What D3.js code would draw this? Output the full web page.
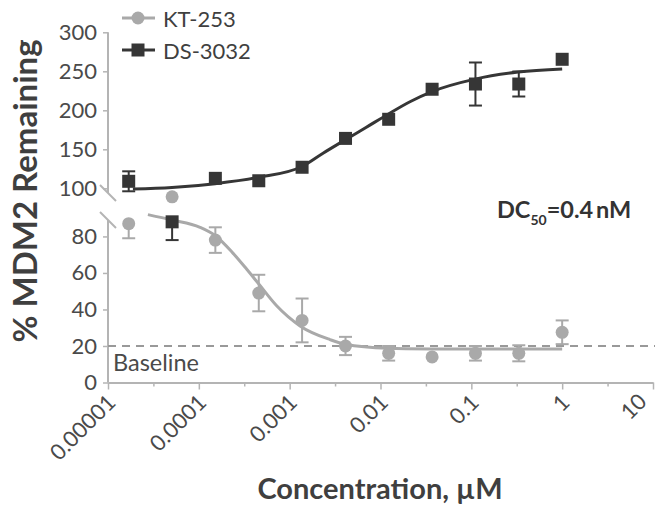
<!DOCTYPE html>
<html>
<head>
<meta charset="utf-8">
<script src="https://cdn.jsdelivr.net/npm/d3@7"></script>
<style>
  html, body { margin: 0; padding: 0; background: #fff; }
  svg { display: block; font-family: Lato, "Open Sans", sans-serif; }
</style>
</head>
<body>
<svg id="chart" width="655" height="508"></svg>
<script>
// ---------- data ----------
const conc = [0.0000169, 0.0000508, 0.000152, 0.000457, 0.00137, 0.00412, 0.0123, 0.037, 0.111, 0.333, 1];

const ktValues = [87, 93.3, 78, 49, 34, 20, 16, 14, 16, 16, 27.5];
const ktErr    = [8, 0, 7, 10, 12, 5, 4, 0, 4, 4.4, 6.5];

const dsValues = [109, 88, 112.8, 109.7, 127, 164, 188.5, 227, 233.7, 233.7, 265.4];
const dsErr    = [12.8, 10, 0, 0, 0, 0, 0, 0, 27.6, 16, 0];

// fitted curves
const ktCurveConc = [0.0000275, 0.0000507, 0.000103, 0.000151, 0.000236, 0.000337, 0.000448, 0.000719, 0.00130, 0.00278, 0.00407, 0.0121, 0.0369, 0.110, 0.327, 1];
const ktCurveVals = [90, 89, 85, 80.5, 71, 62, 54.5, 42, 31, 23.5, 21, 18.8, 18.4, 18.3, 18.3, 18.3];

const dsCurveConc = [0.0000188, 0.0000507, 0.000151, 0.000448, 0.00137, 0.00233, 0.00407, 0.00692, 0.0121, 0.0211, 0.0369, 0.110, 0.327, 1];
const dsCurveVals = [99, 101, 106, 114, 128, 145, 162, 178, 195, 211, 224, 240, 249, 253];

const xTickValues = [0.00001, 0.0001, 0.001, 0.01, 0.1, 1, 10];
const xTickLabels = ["0.00001", "0.0001", "0.001", "0.01", "0.1", "1", "10"];
const xMinorTicks = [0.0000316, 0.000316, 0.00316, 0.0316, 0.316, 3.16];
const yLowerTicks = [0, 20, 40, 60, 80];
const yUpperTicks = [100, 150, 200, 250, 300];
const yBreak = [89, 94];        // lower segment ends, upper segment starts
const baselineValue = 20;

const seriesNames = ["KT-253", "DS-3032"];
const ktColor = "#a9a9a9";
const dsColor = "#363636";
const axisColor = "#b4b4b4";
const textColor = "#4a4a4a";

// ---------- scales ----------
const svg = d3.select("#chart");
const x = d3.scaleLog().domain([0.00001, 10]).range([108, 653]);
const y = d3.scaleLinear()
  .domain([0, yBreak[0], yBreak[1], 300])
  .range([382.5, 220, 193, 32.3]);

// clip regions for the two axis segments (error bars)
const defs = svg.append("defs");
defs.append("clipPath").attr("id", "clipLower").append("rect")
  .attr("x", 0).attr("width", 655).attr("y", y(yBreak[0])).attr("height", 508 - y(yBreak[0]));
defs.append("clipPath").attr("id", "clipUpper").append("rect")
  .attr("x", 0).attr("width", 655).attr("y", 0).attr("height", y(yBreak[1]));
function clipFor(v) {
  if (v <= yBreak[0]) return "url(#clipLower)";
  if (v >= yBreak[1]) return "url(#clipUpper)";
  return null;
}

// ---------- axes ----------
const x0 = x.range()[0];

const gyL = svg.append("g").attr("transform", `translate(${x0},0)`)
  .call(d3.axisLeft(y).tickValues(yLowerTicks).tickSize(5).tickPadding(6).tickSizeOuter(0));
const gyU = svg.append("g").attr("transform", `translate(${x0},0)`)
  .call(d3.axisLeft(y).tickValues(yUpperTicks).tickSize(5).tickPadding(6).tickSizeOuter(0));
[gyL, gyU].forEach(g => {
  g.select(".domain").remove();
  g.selectAll(".tick line").attr("stroke", axisColor).attr("stroke-width", 1.5);
  g.selectAll(".tick text").attr("fill", textColor).style("font-size", "22px")
    .style("font-family", "Lato, sans-serif");
});
svg.append("line").attr("x1", x0).attr("x2", x0).attr("y1", y(0)).attr("y2", y(yBreak[0]))
  .attr("stroke", axisColor).attr("stroke-width", 2);
svg.append("line").attr("x1", x0).attr("x2", x0).attr("y1", y(yBreak[1])).attr("y2", y(300))
  .attr("stroke", axisColor).attr("stroke-width", 2);
// break marks
[yBreak[0], yBreak[1]].forEach(v => {
  svg.append("line")
    .attr("x1", x0 - 8).attr("y1", y(v) - 8).attr("x2", x0 + 8).attr("y2", y(v) + 8)
    .attr("stroke", axisColor).attr("stroke-width", 2);
});

// x axis
const gx = svg.append("g").attr("transform", `translate(0,${y(0)})`)
  .call(d3.axisBottom(x).tickValues(xTickValues).tickSize(7).tickSizeOuter(0)
    .tickFormat((d, i) => xTickLabels[i]));
gx.select(".domain").attr("stroke", axisColor).attr("stroke-width", 2);
gx.selectAll(".tick line").attr("stroke", axisColor).attr("stroke-width", 1.5);
gx.selectAll(".tick text")
  .attr("fill", textColor).style("font-size", "22px").style("font-family", "Lato, sans-serif")
  .attr("text-anchor", "end")
  .attr("x", 0).attr("y", 0).attr("dy", "0.35em")
  .attr("transform", (d, i) => i === xTickValues.length - 1
    ? "translate(-11,15) rotate(-45)" : "translate(3,16) rotate(-45)");
const gxm = svg.append("g").attr("transform", `translate(0,${y(0)})`)
  .call(d3.axisBottom(x).tickValues(xMinorTicks).tickSize(4).tickFormat(""));
gxm.select(".domain").remove();
gxm.selectAll(".tick line").attr("stroke", axisColor).attr("stroke-width", 1.5);

// axis titles
svg.append("text")
  .attr("transform", `translate(37,191) rotate(-90)`)
  .attr("text-anchor", "middle")
  .attr("fill", "#3f3f3f").style("font-size", "33px").style("font-weight", "bold")
  .text("% MDM2 Remaining");
svg.append("text")
  .attr("x", 380).attr("y", 499)
  .attr("text-anchor", "middle")
  .attr("fill", "#3f3f3f").style("font-size", "29px").style("font-weight", "bold")
  .text("Concentration, µM");

// baseline
svg.append("line")
  .attr("x1", x0).attr("x2", 655).attr("y1", y(baselineValue)).attr("y2", y(baselineValue))
  .attr("stroke", "#999").attr("stroke-width", 2).attr("stroke-dasharray", "8,6");
svg.append("text").attr("x", 113).attr("y", 371)
  .attr("fill", textColor).style("font-size", "23.5px").text("Baseline");

// DC50 annotation
const dc = svg.append("text").attr("x", 497).attr("y", 218)
  .attr("fill", "#333").style("font-size", "23.5px").style("font-weight", "bold");
dc.append("tspan").text("DC");
dc.append("tspan").attr("dy", 7).style("font-size", "14px").text("50");
dc.append("tspan").attr("dy", -7).text("=0.4\u2009nM");

// ---------- curves ----------
const line = d3.line().x(d => x(d[0])).y(d => y(d[1])).curve(d3.curveMonotoneX);
svg.append("path").datum(dsCurveConc.map((c, i) => [c, dsCurveVals[i]]))
  .attr("d", line).attr("fill", "none").attr("stroke", dsColor).attr("stroke-width", 3);
svg.append("path").datum(ktCurveConc.map((c, i) => [c, ktCurveVals[i]]))
  .attr("d", line).attr("fill", "none").attr("stroke", ktColor).attr("stroke-width", 3);

// ---------- error bars ----------
function errorBars(vals, errs, color) {
  vals.forEach((v, i) => {
    if (!errs[i]) return;
    const g = svg.append("g").attr("clip-path", clipFor(v));
    const cx = x(conc[i]);
    g.append("line").attr("x1", cx).attr("x2", cx)
      .attr("y1", y(v - errs[i])).attr("y2", y(v + errs[i]))
      .attr("stroke", color).attr("stroke-width", 2);
    [v - errs[i], v + errs[i]].forEach(e => {
      g.append("line").attr("x1", cx - 6.5).attr("x2", cx + 6.5)
        .attr("y1", y(e)).attr("y2", y(e))
        .attr("stroke", color).attr("stroke-width", 2);
    });
  });
}
errorBars(dsValues, dsErr, dsColor);
errorBars(ktValues, ktErr, ktColor);

// ---------- points ----------
svg.append("g").selectAll("rect").data(dsValues).join("rect")
  .attr("x", (d, i) => x(conc[i]) - 6.5).attr("y", d => y(d) - 6.5)
  .attr("width", 13).attr("height", 13).attr("fill", dsColor);
svg.append("g").selectAll("circle").data(ktValues).join("circle")
  .attr("cx", (d, i) => x(conc[i])).attr("cy", d => y(d)).attr("r", 6.5)
  .attr("fill", ktColor);

// ---------- legend ----------
const legend = svg.append("g");
[[ktColor, "circle", 18], [dsColor, "rect", 50]].forEach(([col, shape, ly], i) => {
  legend.append("line").attr("x1", 122).attr("x2", 155).attr("y1", ly).attr("y2", ly)
    .attr("stroke", col).attr("stroke-width", 3);
  if (shape === "circle") {
    legend.append("circle").attr("cx", 138).attr("cy", ly).attr("r", 6.5).attr("fill", col);
  } else {
    legend.append("rect").attr("x", 131.5).attr("y", ly - 6.5).attr("width", 13).attr("height", 13).attr("fill", col);
  }
  legend.append("text").attr("x", 163).attr("y", ly + 8.5)
    .attr("fill", "#3f3f3f").style("font-size", "22px").text(seriesNames[i]);
});
</script>
</body>
</html>
